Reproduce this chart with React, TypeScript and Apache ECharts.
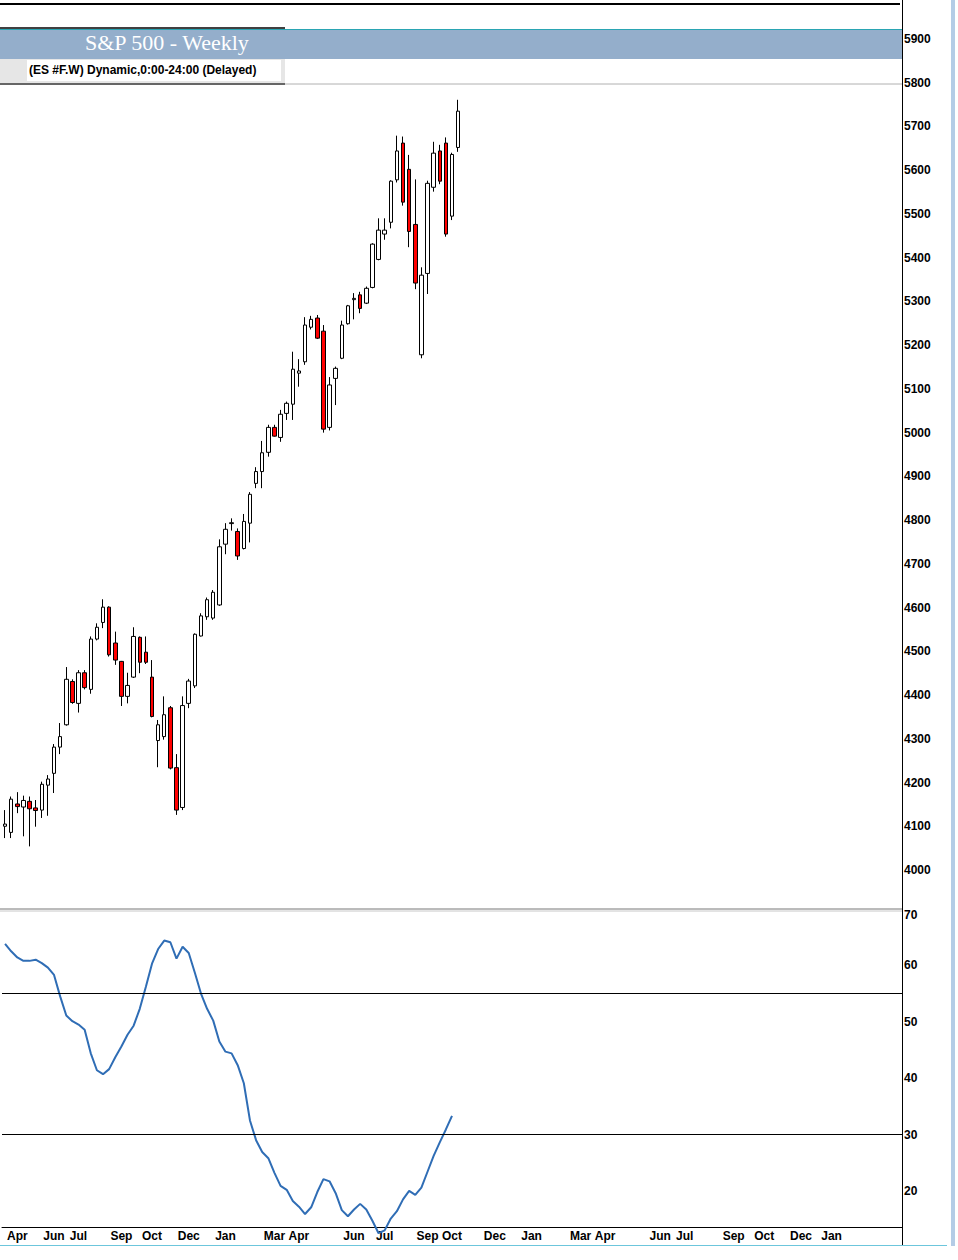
import React, { useEffect, useRef } from "react";
import * as echarts from "echarts";

// ---- DATA ----
const opens = [4100, 4086, 4151, 4144, 4157, 4142, 4137, 4194, 4221, 4281, 4332, 4431, 4381, 4451, 4413, 4528, 4566, 4601, 4519, 4477, 4397, 4441, 4532, 4498, 4441, 4296, 4305, 4371, 4234, 4143, 4381, 4421, 4535, 4579, 4576, 4606, 4745, 4792, 4774, 4735, 4793, 4884, 4911, 4955, 5012, 4989, 5044, 5065, 5136, 5162, 5241, 5262, 5232, 5012, 5124, 5170, 5249, 5304, 5315, 5296, 5332, 5396, 5454, 5481, 5578, 5662, 5602, 5476, 5178, 5364, 5561, 5644, 5662, 5495, 5652];
const closes = [4105, 4162, 4145, 4159, 4140, 4136, 4196, 4208, 4281, 4305, 4436, 4383, 4451, 4417, 4528, 4555, 4601, 4492, 4480, 4397, 4422, 4534, 4475, 4475, 4351, 4332, 4355, 4233, 4137, 4376, 4432, 4539, 4581, 4618, 4635, 4739, 4779, 4794, 4718, 4797, 4859, 4911, 4954, 5012, 4992, 5042, 5067, 5145, 5141, 5246, 5259, 5216, 5008, 5109, 5147, 5246, 5290, 5307, 5284, 5330, 5431, 5463, 5463, 5575, 5644, 5527, 5460, 5342, 5360, 5570, 5639, 5575, 5454, 5636, 5735];
const lows = [4073, 4073, 4130, 4077, 4054, 4099, 4119, 4124, 4176, 4265, 4330, 4380, 4360, 4413, 4403, 4525, 4553, 4488, 4469, 4375, 4381, 4439, 4450, 4471, 4349, 4235, 4298, 4230, 4126, 4137, 4370, 4416, 4534, 4572, 4572, 4604, 4722, 4776, 4709, 4733, 4749, 4873, 4873, 4945, 4991, 4979, 5029, 5029, 5105, 5155, 5236, 5214, 5000, 5005, 5063, 5168, 5247, 5259, 5273, 5294, 5330, 5394, 5441, 5467, 5572, 5519, 5424, 5328, 5170, 5317, 5551, 5568, 5448, 5486, 5642];
const highs = [4137, 4168, 4178, 4170, 4168, 4160, 4202, 4217, 4288, 4336, 4464, 4436, 4457, 4457, 4534, 4564, 4619, 4603, 4545, 4478, 4451, 4555, 4534, 4534, 4480, 4343, 4397, 4375, 4265, 4397, 4437, 4541, 4587, 4623, 4640, 4756, 4793, 4804, 4781, 4814, 4864, 4921, 4981, 5018, 5018, 5052, 5071, 5185, 5168, 5264, 5267, 5269, 5246, 5127, 5151, 5256, 5292, 5319, 5322, 5334, 5433, 5490, 5490, 5577, 5679, 5677, 5635, 5579, 5378, 5576, 5665, 5658, 5675, 5640, 5761];

const oscillator = [63.8, 62.5, 61.4, 60.8, 60.8, 61.0, 60.4, 59.6, 58.3, 54.5, 51.1, 50.1, 49.5, 48.6, 44.4, 41.4, 40.7, 41.6, 43.7, 45.6, 47.7, 49.3, 52.3, 56.2, 60.3, 62.9, 64.4, 64.1, 61.2, 63.3, 62.2, 58.7, 55.0, 52.3, 50.2, 46.5, 44.7, 44.4, 42.3, 39.1, 32.5, 29.0, 26.9, 25.8, 23.2, 20.9, 20.2, 18.2, 17.2, 15.9, 17.1, 19.8, 22.1, 21.7, 19.6, 16.6, 15.5, 16.7, 17.7, 16.7, 14.7, 12.5, 13.0, 15.1, 16.4, 18.5, 20.0, 19.3, 20.6, 23.4, 26.2, 28.6, 30.9, 33.3];

const oscLevels = [55, 30];
const oscTickValues = [20, 30, 40, 50, 60, 70];

const weekCount = 147;
const monthTicks: [number, string][] = [
  [2, "Apr"], [8, "Jun"], [12, "Jul"], [19, "Sep"], [24, "Oct"], [30, "Dec"], [36, "Jan"],
  [44, "Mar"], [48, "Apr"], [57, "Jun"], [62, "Jul"], [69, "Sep"], [73, "Oct"], [80, "Dec"], [86, "Jan"],
  [94, "Mar"], [98, "Apr"], [107, "Jun"], [111, "Jul"], [119, "Sep"], [124, "Oct"], [130, "Dec"], [135, "Jan"],
];

const titleText = "S&P 500 - Weekly";
const subtitleText = "(ES #F.W) Dynamic,0:00-24:00 (Delayed)";

export default function App() {
  const ref = useRef<HTMLDivElement>(null);
  useEffect(() => {
    if (!ref.current) return;
    const chart = echarts.init(ref.current, undefined, { renderer: "svg" });
    const tickMap = new Map(monthTicks);
    const categories = Array.from({ length: weekCount }, (_, i) => tickMap.get(i) ?? "");
    const candles = opens.map((o, i) => [o, closes[i], lows[i], highs[i]]);
    const axisFont = {
      color: "#000",
      fontFamily: "Liberation Sans, Arial, sans-serif",
      fontWeight: "bold" as const,
      fontSize: 12,
    };
    const option: any = {
      animation: false,
      backgroundColor: "#ffffff",
      grid: [
        { left: 2, right: 56, top: 39, height: 831 },
        { left: 2, right: 56, top: 909, height: 318 },
      ],
      xAxis: [
        {
          type: "category",
          gridIndex: 0,
          data: categories,
          boundaryGap: true,
          show: false,
        },
        {
          type: "category",
          gridIndex: 1,
          data: categories,
          boundaryGap: true,
          axisLine: { show: true, lineStyle: { color: "#000", width: 1 } },
          axisTick: { show: false },
          axisLabel: { ...axisFont, interval: 0, margin: 3 },
          splitLine: { show: false },
        },
      ],
      yAxis: [
        {
          type: "value",
          gridIndex: 0,
          position: "right",
          min: 4000,
          max: 5900,
          interval: 100,
          axisLine: { show: false },
          axisTick: { show: false },
          splitLine: { show: false },
          axisLabel: { ...axisFont, margin: 2, formatter: (v: number) => String(v) },
        },
        {
          type: "value",
          gridIndex: 1,
          position: "right",
          min: 13.6,
          max: 70,
          axisLine: { show: false },
          axisTick: { show: false },
          splitLine: { show: false },
          axisLabel: {
            ...axisFont,
            margin: 2,
            customValues: oscTickValues,
            verticalAlignMaxLabel: "top",
            formatter: (v: number) => String(v),
          },
        },
      ],
      series: [
        {
          type: "candlestick",
          xAxisIndex: 0,
          yAxisIndex: 0,
          data: candles,
          barWidth: 4,
          itemStyle: {
            color: "#ffffff",
            color0: "#ff0000",
            borderColor: "#000000",
            borderColor0: "#000000",
            borderWidth: 1,
          },
        },
        {
          type: "line",
          xAxisIndex: 1,
          yAxisIndex: 1,
          data: oscillator,
          symbol: "none",
          clip: false,
          lineStyle: { color: "#2f6db5", width: 2 },
          markLine: {
            silent: true,
            symbol: "none",
            label: { show: false },
            lineStyle: { color: "#000", width: 1, type: "solid" },
            data: oscLevels.map((v) => ({ yAxis: v })),
          },
        },
      ],
      graphic: [
        { type: "line", z: 100, shape: { x1: 0, y1: 4, x2: 900, y2: 4 }, style: { stroke: "#000", lineWidth: 2 } },
        { type: "rect", z: 100, shape: { x: 0, y: 29, width: 902, height: 30 }, style: { fill: "#94aecb" } },
        { type: "line", z: 101, shape: { x1: 0, y1: 29.5, x2: 902, y2: 29.5 }, style: { stroke: "#2aa5b3", lineWidth: 1 } },
        { type: "line", z: 101, shape: { x1: 0, y1: 28, x2: 285, y2: 28 }, style: { stroke: "#000", lineWidth: 1.5 } },
        {
          type: "text", z: 102, x: 85, y: 42,
          style: { text: titleText, fill: "#ffffff", font: "22px 'Liberation Serif', 'Times New Roman', serif", verticalAlign: "middle" },
        },
        { type: "rect", z: 100, shape: { x: 0, y: 59, width: 902, height: 25 }, style: { fill: "#ffffff" } },
        { type: "rect", z: 100, shape: { x: 0, y: 59, width: 285, height: 25 }, style: { fill: "#e6e6e6" } },
        { type: "rect", z: 101, shape: { x: 27, y: 60, width: 254, height: 21 }, style: { fill: "#ffffff" } },
        {
          type: "text", z: 102, x: 29, y: 70,
          style: { text: subtitleText, fill: "#000", font: "bold 12px 'Liberation Sans', Arial, sans-serif", verticalAlign: "middle" },
        },
        { type: "line", z: 101, shape: { x1: 0, y1: 84, x2: 285, y2: 84 }, style: { stroke: "#666", lineWidth: 2 } },
        { type: "line", z: 101, shape: { x1: 285, y1: 84, x2: 902, y2: 84 }, style: { stroke: "#b0b0b0", lineWidth: 1 } },
        { type: "line", z: 100, shape: { x1: 0, y1: 909, x2: 902, y2: 909 }, style: { stroke: "#777", lineWidth: 1 } },
        { type: "line", z: 100, shape: { x1: 0, y1: 911, x2: 902, y2: 911 }, style: { stroke: "#c8c8c8", lineWidth: 1 } },
        { type: "line", z: 100, shape: { x1: 902.5, y1: 0, x2: 902.5, y2: 1246 }, style: { stroke: "#000", lineWidth: 1 } },
        { type: "line", z: 100, shape: { x1: 0, y1: 1245.5, x2: 947, y2: 1245.5 }, style: { stroke: "#6cc6dc", lineWidth: 1 } },
        { type: "rect", z: 100, shape: { x: 951, y: 0, width: 4, height: 1246 }, style: { fill: "#b4cce6" } },
      ],
    };
    chart.setOption(option);
    return () => chart.dispose();
  }, []);
  return (
    <div
      ref={ref}
      style={{ position: "absolute", left: 0, top: 0, width: 958, height: 1260 }}
    />
  );
}
